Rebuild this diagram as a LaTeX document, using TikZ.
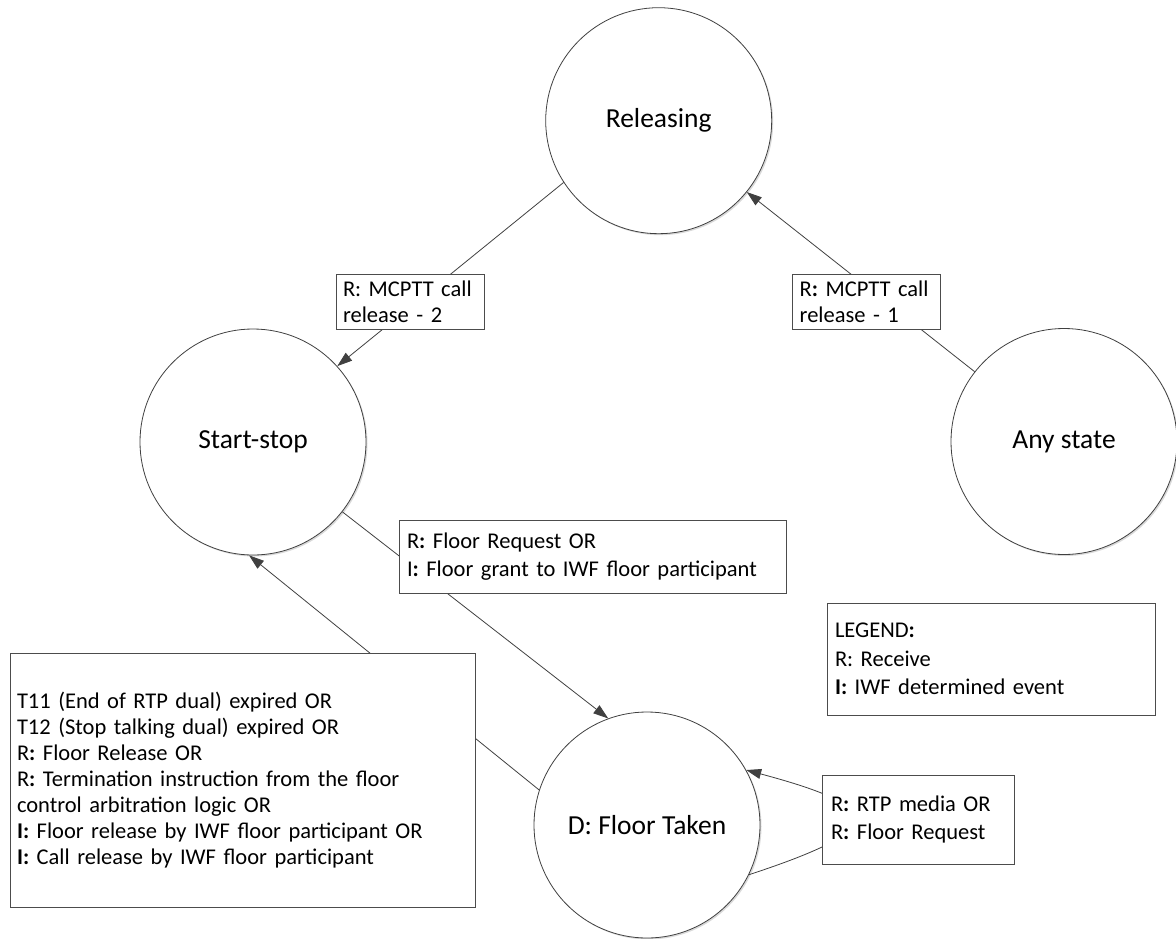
\documentclass[tikz,border=0pt]{standalone}
\usepackage{fontspec}
\setmainfont{Carlito}
\usetikzlibrary{arrows.meta,shadows}
\newcommand\bcolon{\textbf{:}}
\frenchspacing
\begin{document}
\begin{tikzpicture}[x=1pt,y=-1pt,
  state/.style={circle, draw=black!75, line width=0.8pt, fill=white, minimum size=226pt, inner sep=0pt,
    font=\fontsize{27.5}{33}\selectfont,
    drop shadow={shadow xshift=1.5pt, shadow yshift=-1.5pt, fill=black!25, opacity=0.6}},
  lbl/.style={draw=black!70, line width=0.8pt, fill=white, align=left, inner xsep=7pt, inner ysep=0pt,
    font=\fontsize{22.5}{27}\selectfont},
  conn/.style={draw=black!75, line width=0.8pt},
  tip/.style={-{Triangle[length=15pt,width=10pt]}}
]
\useasboundingbox (0,0) rectangle (1176,938);

% states
\node[state] (rel) at (658.7,120.7) {Releasing};
\node[state] (ss)  at (253,442)     {Start-stop};
\node[state] (any) at (1064,441.5)  {Any state};
\node[state] (ft)  at (647,825)     {D: Floor Taken};

% connectors
\draw[conn,tip] (rel.213) -- (ss.42);
\draw[conn,tip] (any.142) -- (rel.-39);
\draw[conn,tip] (ss.-38) -- (ft.110);
\draw[conn,tip] (ft.162) -- (ss.268);
\draw[conn,tip] (ft.-26) .. controls +(140,-46) and +(140,37.5) .. (ft.29);

% labels
\node[lbl, text width=134pt, minimum height=55pt, font=\fontsize{22.5}{26.5}\selectfont] (l2) at (410,301.8)
  {R: MCPTT call\\release - 2};
\node[lbl, text width=134pt, minimum height=55pt, font=\fontsize{22.5}{26.5}\selectfont] (l1) at (866.7,301.8)
  {R\bcolon{} MCPTT call\\release - 1};
\node[lbl, text width=371pt, minimum height=73pt, inner xsep=8pt, font=\fontsize{22.5}{28.5}\selectfont] (lfr) at (592.5,556.5)
  {R\bcolon{} Floor Request OR\\I\bcolon{} Floor grant to IWF floor participant};
\node[lbl, text width=451pt, minimum height=254pt, font=\fontsize{22.5}{26}\selectfont] (lbig) at (242.5,780)
  {T11 (End of RTP dual) expired OR\\
   T12 (Stop talking dual) expired OR\\
   R\bcolon{} Floor Release OR\\
   R\bcolon{} Termination instruction from the floor\\
   control arbitration logic OR\\
   \textbf{I:} Floor release by IWF floor participant OR\\
   \textbf{I:} Call release by IWF floor participant};
\node[lbl, text width=312pt, minimum height=112pt, inner xsep=8pt, font=\fontsize{22.5}{28.5}\selectfont] (leg) at (991,659)
  {LEGEND\bcolon\\R: Receive\\\textbf{I:} IWF determined event};
\node[lbl, text width=174pt, minimum height=89pt, inner xsep=9pt, font=\fontsize{22.5}{27.5}\selectfont] (lrtp) at (918,819.5)
  {R\bcolon{} RTP media OR\\R\bcolon{} Floor Request};
\end{tikzpicture}
\end{document}
